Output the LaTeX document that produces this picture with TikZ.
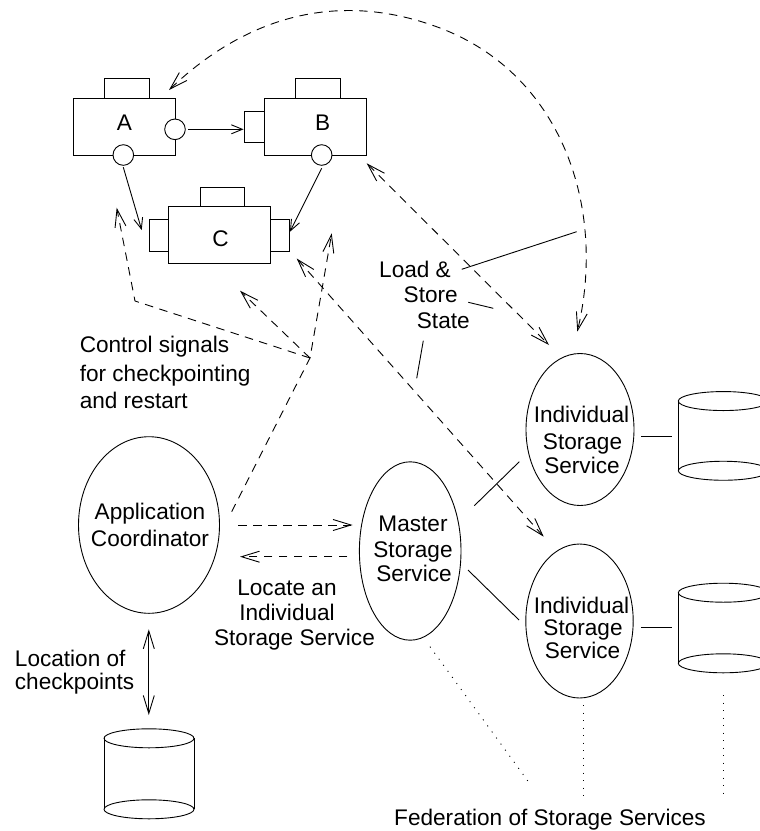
\documentclass[tikz,border=0pt]{standalone}
\usepackage{fontspec}
\setmainfont{Liberation Sans}
\usetikzlibrary{arrows.meta,shapes.geometric}
\tikzset{
  compbox/.style={draw, fill=white, inner sep=0pt},
  port/.style={draw, fill=white, circle, inner sep=0pt, minimum size=20.6pt},
  service/.style={draw, ellipse, inner sep=0pt},
  store/.style={inner sep=0pt, outer sep=0pt, minimum width=90pt},
  txt/.style={font=\fontsize{22.6}{26}\selectfont, inner sep=0pt},
  dashline/.style={dash pattern=on 8.5pt off 6.5pt},
  dotline/.style={dash pattern=on 1pt off 6.5pt},
  toarrow/.style={-{Straight Barb[length=18pt,width=11pt]}},
  bothways/.style={{Straight Barb[length=18pt,width=11pt]}-{Straight Barb[length=18pt,width=11pt]}},
  solidto/.style={-{Straight Barb[length=11pt,width=9pt]}},
}
\begin{document}
\begin{tikzpicture}[x=1pt,y=-1pt,line width=0.9pt]
\useasboundingbox (0,0) rectangle (760,831);
\clip (0,0) rectangle (760,831);

% ---- component A ----
\node[compbox, minimum width=45pt, minimum height=20pt] (Atab) at (126.5,88) {};
\node[compbox, minimum width=102pt, minimum height=57pt] (A) at (124,126.5) {};
\node[port] (Aout) at (175,129.3) {};
\node[port] (Adown) at (123.3,155) {};
\node[txt, anchor=base] (Alab) at (124.5,130) {A};

% ---- component B ----
\node[compbox, minimum width=45pt, minimum height=20pt] (Btab) at (317.5,88) {};
\node[compbox, minimum width=102pt, minimum height=57pt] (B) at (315,126.5) {};
\node[compbox, minimum width=20pt, minimum height=31pt] (Bin) at (254,126.5) {};
\node[port] (Bdown) at (321.7,155) {};
\node[txt, anchor=base] (Blab) at (322.7,130) {B};

% ---- component C ----
\node[compbox, minimum width=44pt, minimum height=19pt] (Ctab) at (222,196.5) {};
\node[compbox, minimum width=102pt, minimum height=57pt] (C) at (219,234.5) {};
\node[compbox, minimum width=19pt, minimum height=32pt] (Cin) at (158.5,235) {};
\node[compbox, minimum width=19pt, minimum height=32pt] (Cout) at (279.5,235) {};
\node[txt, anchor=base] (Clab) at (220.5,246.5) {C};

% ---- services ----
\node[service, minimum width=141pt, minimum height=176.6pt] (coord) at (149,525) {};
\node[service, minimum width=101.6pt, minimum height=178.4pt] (master) at (410.2,551) {};
\node[service, minimum width=108pt, minimum height=152pt] (iss1) at (580,429.5) {};
\node[service, minimum width=107.4pt, minimum height=154pt] (iss2) at (579.5,621) {};

\node[txt, anchor=base] (coordA) at (150,519.3) {Application};
\node[txt, anchor=base] (coordB) at (150,546.7) {Coordinator};
\node[txt, anchor=base] (masterA) at (413,531.7) {Master};
\node[txt, anchor=base] (masterB) at (413,557.3) {Storage};
\node[txt, anchor=base] (masterC) at (414,581.7) {Service};
\node[txt, anchor=base] (issA) at (581.5,422.3) {Individual};
\node[txt, anchor=base] (issB) at (582.5,449.3) {Storage};
\node[txt, anchor=base] (issC) at (582,473.3) {Service};
\node[txt, anchor=base] (issD) at (581.5,613.5) {Individual};
\node[txt, anchor=base] (issE) at (583,635) {Storage};
\node[txt, anchor=base] (issF) at (582.5,658.8) {Service};

% ---- storage cylinders ----
\node[store, minimum height=71pt] (disk0) at (149,773.8) {};
\node[store, minimum height=69.7pt] (disk1) at (723.3,435.9) {};
\node[store, minimum height=70.6pt] (disk2) at (723.3,628) {};
\foreach \d in {disk0,disk1,disk2} {
  \draw (\d.north west) -- (\d.south west) (\d.north east) -- (\d.south east);
  \draw (\d.north) ellipse [x radius=45pt, y radius=9.5pt];
  \draw (\d.south) ellipse [x radius=45pt, y radius=9.5pt];
}

% ---- connector end points ----
\coordinate (ac1) at (123.3,167.3);  \coordinate (ac2) at (141.7,230);
\coordinate (bc1) at (321.7,168.3);  \coordinate (bc2) at (290,231.7);
\coordinate (arcA) at (169,90);      \coordinate (arcS) at (577.3,331.7);
\coordinate (bs1) at (366.7,163.3);  \coordinate (bs2) at (549,345);
\coordinate (cs1) at (296.7,258.5);  \coordinate (cs2) at (543.7,536.7);
\coordinate (ctl) at (310,358);
\coordinate (ctlA) at (231.7,511.7);
\coordinate (ctlC) at (331.7,233.3);
\coordinate (ctlB) at (240,290.7);
\coordinate (ctlK) at (135,301);
\coordinate (ctlD) at (116.7,207.7);
\coordinate (cm1) at (238,525);      \coordinate (cm2) at (352.6,525);
\coordinate (mc1) at (347.4,556.7);  \coordinate (mc2) at (240,556.7);
\coordinate (loc1) at (148.8,629.3); \coordinate (loc2) at (148.8,715);
\coordinate (ls1) at (461.7,269.3);  \coordinate (ls2) at (576.7,231.7);
\coordinate (ls3) at (468.3,302.3);  \coordinate (ls4) at (493.3,308.3);
\coordinate (ls5) at (423.3,340.7);  \coordinate (ls6) at (416.7,378.3);
\coordinate (mi1) at (474.3,505.7);  \coordinate (mi2) at (519.3,461.7);
\coordinate (mi3) at (468,570);      \coordinate (mi4) at (519,620);
\coordinate (id1) at (641,436);      \coordinate (id2) at (671.7,436);
\coordinate (id3) at (640.8,627);    \coordinate (id4) at (671.8,627);
\coordinate (fd1) at (430,646.7);    \coordinate (fd2) at (530.8,785);
\coordinate (fd3) at (583,705);      \coordinate (fd4) at (583,798);
\coordinate (fd5) at (723.3,695);    \coordinate (fd6) at (723.3,793);

% ---- solid connectors between components ----
\draw[solidto] ([xshift=2.5pt]Aout.east) -- (Bin.west |- Aout.east);
\draw[solidto] (ac1) -- (ac2);
\draw[solidto] (bc1) -- (bc2);

% ---- load and store state ----
\draw[dashline, bothways] (arcA) .. controls (251.8,11.1) and (345.3,-7.9) .. (440,28)
                                 .. controls (560.7,73.7) and (607,206.3) .. (arcS);
\draw[dashline, bothways] (bs1) -- (bs2);
\draw[dashline, bothways] (cs1) -- (cs2);

% ---- control signals ----
\draw[dashline, toarrow] (ctlA) -- (ctl) -- (ctlC);
\draw[dashline, toarrow] (ctl) -- (ctlB);
\draw[dashline, toarrow] (ctl) -- (ctlK) -- (ctlD);

% ---- coordinator and master ----
\draw[dashline, toarrow] (cm1) -- (cm2);
\draw[dashline, toarrow] (mc1) -- (mc2);
\draw[bothways] (loc1) -- (loc2);

% ---- label pointers ----
\draw (ls1) -- (ls2);
\draw (ls3) -- (ls4);
\draw (ls5) -- (ls6);

% ---- storage links ----
\draw (mi1) -- (mi2);
\draw (mi3) -- (mi4);
\draw (id1) -- (id2);
\draw (id3) -- (id4);

% ---- federation ----
\draw[dotline] (fd1) -- (fd2);
\draw[dotline] (fd3) -- (fd4);
\draw[dotline] (fd5) -- (fd6);

% ---- labels ----
\node[txt, anchor=base] (lsA) at (415,277.3) {Load \&};
\node[txt, anchor=base] (lsB) at (430.7,302) {Store};
\node[txt, anchor=base] (lsC) at (443.3,328.5) {State};
\node[txt, anchor=base west] (csA) at (79.3,352.7) {Control signals};
\node[txt, anchor=base west] (csB) at (79.3,381) {for checkpointing};
\node[txt, anchor=base west] (csC) at (79.3,408.3) {and restart};
\node[txt, anchor=base] (lcA) at (287,595.7) {Locate an};
\node[txt, anchor=base] (lcB) at (287,620) {Individual};
\node[txt, anchor=base] (lcC) at (294.5,645.7) {Storage Service};
\node[txt, anchor=base west] (loA) at (14.5,666) {Location of};
\node[txt, anchor=base west] (loB) at (14.5,689) {checkpoints};
\node[txt, anchor=base] (fed) at (550,825) {Federation of Storage Services};
\end{tikzpicture}
\end{document}
